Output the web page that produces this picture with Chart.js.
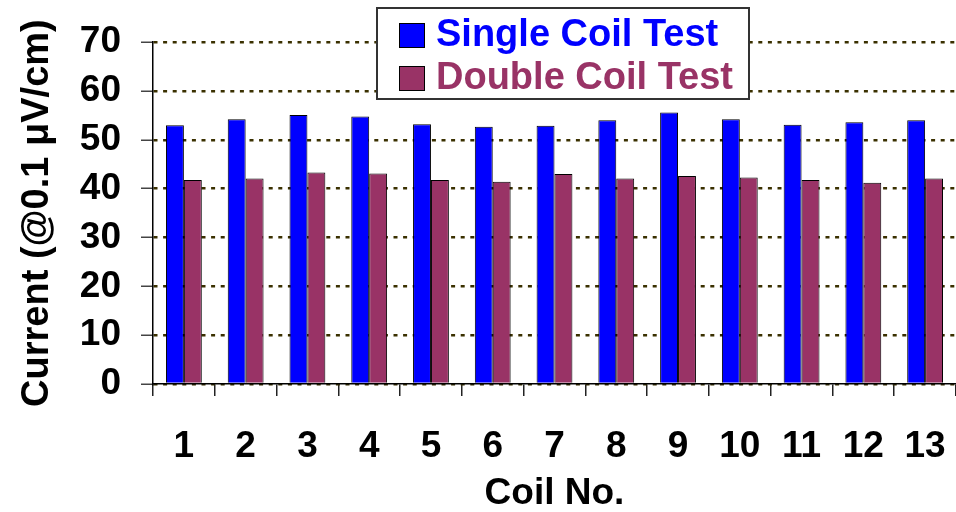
<!DOCTYPE html>
<html>
<head>
<meta charset="utf-8">
<script src="https://cdn.jsdelivr.net/npm/chart.js@4.4.1/dist/chart.umd.min.js"></script>
<style>
  html, body { margin: 0; padding: 0; background: #fff; }
  #wrap { width: 956px; height: 512px; }
</style>
</head>
<body>
<div id="wrap"><canvas id="myChart" width="956" height="512"></canvas></div>
<script>
// DATA
const coilLabels = ['1', '2', '3', '4', '5', '6', '7', '8', '9', '10', '11', '12', '13'];
const singleCoil = [53.0, 54.2, 55.1, 54.8, 53.2, 52.7, 52.9, 54.0, 55.6, 54.2, 53.1, 53.6, 54.0];
const doubleCoil = [41.8, 42.1, 43.3, 43.1, 41.8, 41.4, 43.0, 42.1, 42.6, 42.3, 41.8, 41.2, 42.1];
const yMin = 0;
const yMax = 70;
const yStep = 10;

const FONT = '"Liberation Sans", Arial, sans-serif';

// LEGEND (boxed, drawn over the plot)
const legendBox = {
    id: 'legendBox',
    afterDraw(chart) {
        const ctx = chart.ctx;
        ctx.save();
        ctx.fillStyle = '#ffffff';
        ctx.fillRect(376, 7, 374, 93);
        ctx.strokeStyle = '#333333';
        ctx.lineWidth = 2;
        ctx.strokeRect(377, 8, 372, 91);
        chart.data.datasets.forEach((ds, i) => {
            const y = 23 + i * 43;
            ctx.fillStyle = ds.backgroundColor;
            ctx.fillRect(399, y, 26, 25);
            ctx.strokeStyle = '#000';
            ctx.lineWidth = 1;
            ctx.strokeRect(399.5, y + 0.5, 25, 24);
            ctx.font = 'bold 38px ' + FONT;
            ctx.textBaseline = 'middle';
            ctx.textAlign = 'left';
            ctx.fillText(ds.label, 436, y + 13);
        });
        ctx.restore();
    }
};

const config = {
    type: 'bar',
    data: {
        labels: coilLabels,
        datasets: [{
            label: 'Single Coil Test',
            data: singleCoil,
            backgroundColor: '#0000ff',
            borderColor: '#000000',
            borderWidth: 1
        }, {
            label: 'Double Coil Test',
            data: doubleCoil,
            backgroundColor: '#993366',
            borderColor: '#000000',
            borderWidth: 1
        }]
    },
    options: {
        responsive: false,
        animation: false,
        devicePixelRatio: 1,
        layout: { padding: { top: 24, right: 0, left: 0, bottom: 0 } },
        datasets: { bar: { categoryPercentage: 0.58, barPercentage: 1.0 } },
        plugins: {
            legend: { display: false },
            tooltip: { enabled: false }
        },
        scales: {
            x: {
                afterFit: (scale) => {
                    scale.height = 128;
                    scale.paddingLeft = 0;
                    scale.paddingRight = 0;
                },
                grid: {
                    display: true,
                    drawOnChartArea: false,
                    offset: true,
                    tickLength: 12,
                    color: '#222222',
                    lineWidth: 1.5
                },
                border: { color: '#000000', width: 1.5 },
                ticks: {
                    color: '#000',
                    font: { family: FONT, size: 37, weight: 'bold' },
                    padding: 29,
                    maxRotation: 0,
                    autoSkip: false
                },
                title: {
                    display: true,
                    text: 'Coil No.',
                    color: '#000',
                    font: { family: FONT, size: 37, weight: 'bold', lineHeight: 1 },
                    padding: { top: 0, bottom: 0 }
                }
            },
            y: {
                min: yMin,
                max: yMax,
                afterFit: (scale) => { scale.width = 153; },
                grid: {
                    color: '#3a3000',
                    lineWidth: 2.5,
                    tickLength: 12,
                    tickColor: '#444444',
                    tickWidth: 1.5,
                    tickBorderDash: []
                },
                border: { color: '#000000', width: 1.5, dash: [4, 5.6] },
                ticks: {
                    stepSize: yStep,
                    color: '#000',
                    font: { family: FONT, size: 37, weight: 'bold' },
                    padding: 20
                },
                title: {
                    display: true,
                    text: 'Current (@0.1 \u03bcV/cm)',
                    color: '#000',
                    font: { family: FONT, size: 38, weight: 'bold', lineHeight: 1 },
                    padding: { top: 19, bottom: 0 }
                }
            }
        }
    },
    plugins: [legendBox]
};

const myChart = new Chart(document.getElementById('myChart'), config);
</script>
</body>
</html>
